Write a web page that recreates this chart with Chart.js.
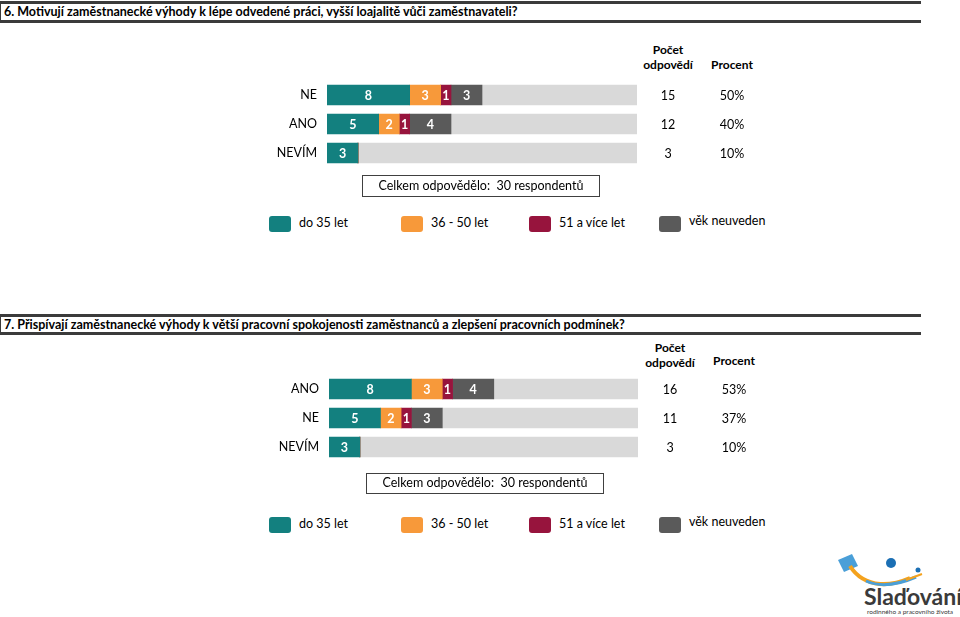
<!DOCTYPE html>
<html>
<head>
<meta charset="utf-8">
<script src="https://cdn.jsdelivr.net/npm/chart.js@4/dist/chart.umd.min.js"></script>
<style>
body{margin:0;width:960px;height:617px;background:#fff;position:relative;overflow:hidden;font-family:Lato,"Open Sans",sans-serif;color:#000}
.title{position:absolute;left:0;width:921px;border-top:3px solid #3b3b3b;border-bottom:3px solid #3b3b3b;border-left:1px solid #3b3b3b;font-weight:bold;font-size:12.5px;padding-left:3px;box-sizing:border-box;line-height:16px}
.hdr{position:absolute;font-weight:bold;font-size:12px;text-align:center;line-height:15px}
.box{position:absolute;border:1.5px solid #404040;box-sizing:border-box;font-size:12.5px;text-align:center}
.leg{position:absolute;font-size:12.5px;line-height:16px}
.sq{position:absolute;width:22px;height:16px;border-radius:3px}
canvas{position:absolute}
</style>
</head>
<body>
<div class="title" style="top:1px;height:22px">6. Motivují zaměstnanecké výhody k lépe odvedené práci, vyšší loajalitě vůči zaměstnavateli?</div>

<div class="hdr" style="left:628px;top:42px;width:80px">Počet<br>odpovědí</div>
<div class="hdr" style="left:692px;top:57px;width:80px">Procent</div>
<canvas id="chart1" width="500" height="145" style="left:260px;top:40px"></canvas>
<div class="box" style="left:362px;top:175px;width:238px;height:22px;line-height:19px">Celkem odpovědělo:&nbsp; 30 respondentů</div>
<div id="legend1"></div>

<div class="title" style="top:314px;height:21px">7. Přispívají zaměstnanecké výhody k větší pracovní spokojenosti zaměstnanců a zlepšení pracovních podmínek?</div>

<div class="hdr" style="left:630px;top:340px;width:80px">Počet<br>odpovědí</div>
<div class="hdr" style="left:694px;top:353px;width:80px">Procent</div>
<canvas id="chart2" width="500" height="139" style="left:260px;top:340px"></canvas>
<div class="box" style="left:366px;top:473px;width:238px;height:21px;line-height:18px">Celkem odpovědělo:&nbsp; 30 respondentů</div>
<div id="legend2"></div>

<svg style="position:absolute;left:830px;top:550px" width="130" height="67">
  <path d="M8 10 L22 4 L28 16 L14 22 Z" fill="#4a9fd8"/>
  <path d="M20 16 Q30 32 50 34 Q64 35 80 28" stroke="#f4a21d" stroke-width="4" fill="none"/>
  <circle cx="61" cy="13" r="5" fill="#1b6fb4"/>
  <path d="M36 31 Q56 40 86 27" stroke="#4a9fd8" stroke-width="3" fill="none"/>
  <circle cx="88" cy="20" r="2.5" fill="#1b6fb4"/>
  <path d="M76 30 L92 24" stroke="#f4a21d" stroke-width="2" fill="none"/>
  <text x="34" y="55" font-family="Lato" font-weight="bold" font-size="23" fill="#3a3a3a">Slaďování</text>
  <text x="37" y="64" font-family="Lato" font-size="6.5" fill="#3a3a3a">rodinného a pracovního života</text>
</svg>

<script>
// age group legend + colours
var groupNames = ["do 35 let", "36 - 50 let", "51 a více let", "věk neuveden"];
var groupColors = ["#13807f", "#f7993a", "#97143d", "#5a5a5a"];
var restColor = "#d9d9d9";
var respondents = 30;

// question 6
var categories1 = ["NE", "ANO", "NEVÍM"];
var do35_1 = [8, 5, 3];
var age36_50_1 = [3, 2, 0];
var age51_1 = [1, 1, 0];
var unknown_1 = [3, 4, 0];

// question 7
var categories2 = ["ANO", "NE", "NEVÍM"];
var do35_2 = [8, 5, 3];
var age36_50_2 = [3, 2, 0];
var age51_2 = [1, 1, 0];
var unknown_2 = [4, 3, 0];

function makeLegend(id, top)
{
	var xs = [269, 401, 529, 659];
	var html = "";
	for (var i = 0; i < groupNames.length; i++)
	{
		html += "<div class='sq' style='left:" + xs[i] + "px;top:" + top + "px;background:" + groupColors[i] + "'></div>";
		html += "<div class='leg' style='left:" + (xs[i] + 30) + "px;top:" + (top - 1 - (i == 3 ? 2 : 0)) + "px'>" + groupNames[i] + "</div>";
	}
	document.getElementById(id).innerHTML = html;
}

// writes numbers into segments and the count / percent columns
var labelsPlugin = {
	id: "labels",
	afterDatasetsDraw: function(chart, args, opts)
	{
		var ctx = chart.ctx;
		ctx.save();
		ctx.textAlign = "center";
		ctx.textBaseline = "middle";
		ctx.font = "bold 12.5px Lato";
		ctx.fillStyle = "#fff";
		for (var d = 0; d < 4; d++)
		{
			var meta = chart.getDatasetMeta(d);
			meta.data.forEach(function(bar, i)
			{
				var v = chart.data.datasets[d].data[i];
				if (!v) return;
				var p = bar.getProps(["x", "y", "base"], true);
				ctx.fillText(v, (p.x + p.base) / 2, p.y + 1);
			});
		}
		ctx.font = "12.5px Lato";
		ctx.fillStyle = "#000";
		var meta0 = chart.getDatasetMeta(0);
		meta0.data.forEach(function(bar, i)
		{
			var sum = 0;
			for (var d = 0; d < 4; d++) sum += chart.data.datasets[d].data[i];
			var y = bar.getProps(["y"], true).y + 1;
			ctx.fillText(sum, opts.countX, y);
			ctx.fillText(Math.round(sum / respondents * 100) + "%", opts.pctX, y);
		});
		ctx.restore();
	}
};

function createChart(id, labels, a, b, c, d, padTop, padBottom, axisWidth, cols)
{
	var rest = [];
	for (var i = 0; i < labels.length; i++) rest.push(respondents - a[i] - b[i] - c[i] - d[i]);
	var series = [a, b, c, d];
	var datasets = [];
	for (var k = 0; k < 4; k++)
	{
		datasets.push({label: groupNames[k], data: series[k], backgroundColor: groupColors[k], barThickness: 20, borderWidth: 0});
	}
	datasets.push({label: "rest", data: rest, backgroundColor: restColor, barThickness: 20, borderWidth: 0});

	return new Chart(document.getElementById(id), {
		type: "bar",
		data: {labels: labels, datasets: datasets},
		options: {
			indexAxis: "y",
			responsive: false,
			animation: false,
			layout: {padding: {top: padTop, bottom: padBottom, left: 0, right: cols.right}},
			plugins: {legend: {display: false}, tooltip: {enabled: false}, labels: cols},
			scales: {
				x: {stacked: true, min: 0, max: respondents, display: false},
				y: {
					stacked: true,
					grid: {display: false, drawTicks: false},
					border: {display: false},
					ticks: {padding: 10, color: "#000", font: {family: "Lato", size: 12.5}},
					afterFit: function(scale) { scale.width = axisWidth; }
				}
			}
		},
		plugins: [labelsPlugin]
	});
}

makeLegend("legend1", 216);
makeLegend("legend2", 517);
createChart("chart1", categories1, do35_1, age36_50_1, age51_1, unknown_1, 40.5, 2.5, 67, {countX: 408, pctX: 472, right: 123});
createChart("chart2", categories2, do35_2, age36_50_2, age51_2, unknown_2, 34.5, 8.5, 69, {countX: 410, pctX: 474, right: 122});
</script>
</body>
</html>
